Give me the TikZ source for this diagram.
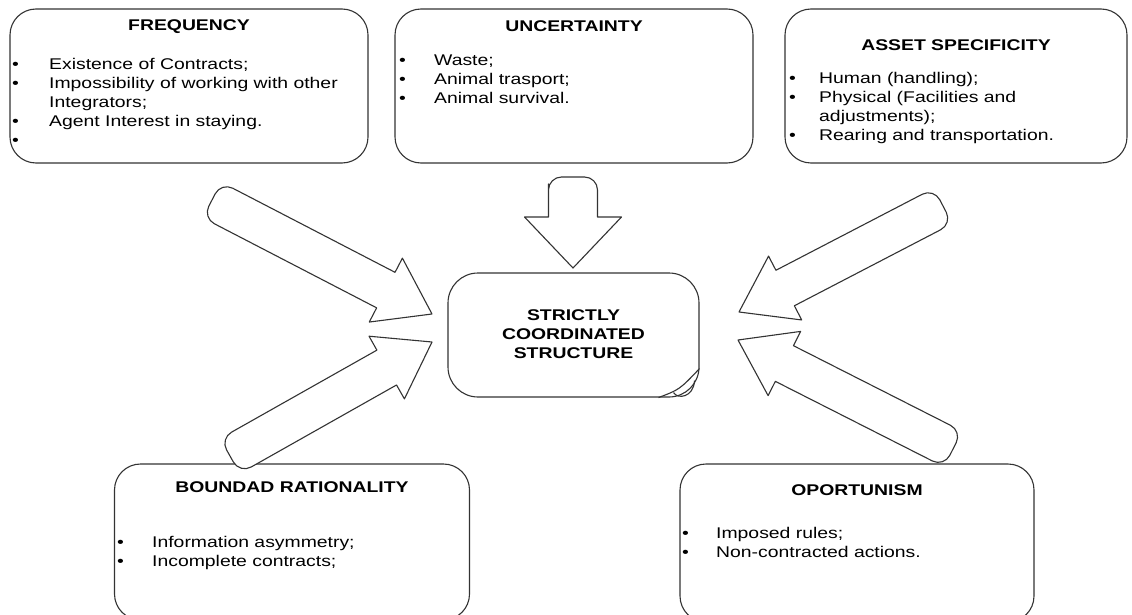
\documentclass[tikz,border=0pt]{standalone}
\usepackage{fontspec}
\newfontfamily\diagfont{Liberation Sans}[FakeStretch=1.25]
\usetikzlibrary{calc}

\newcommand{\itemlist}[2]{\begin{tabular}[t]{@{}p{#1}@{}l@{}}#2\end{tabular}}
% block arrow: tail, tip, shaft half width, head half width, head length
\newcommand{\blockarrow}[5]{%
  \coordinate (#1h) at ($(#2)!#5!(#1)$);
  \coordinate (#1m) at ($(#1)!0.5!(#1h)$);
  \draw[arr] (#2) -- ($(#1h)!#4!90:(#2)$) -- ($(#1h)!#3!90:(#2)$) -- ($(#1m)!#3!90:(#2)$)
    [rounded corners=13pt] -- ($(#1)!#3!90:(#2)$) -- ($(#1)!#3!-90:(#2)$) -- ($(#1m)!#3!-90:(#2)$)
    [sharp corners] -- ($(#1h)!#3!-90:(#2)$) -- ($(#1h)!#4!-90:(#2)$) -- cycle;}

\tikzset{
  box/.style={draw=black!80, line width=1.1pt, rounded corners=26pt, fill=white},
  arr/.style={draw=black!80, line width=1.1pt, fill=white, line join=round},
  ttl/.style={font=\diagfont\fontsize{15.5}{19}\selectfont\bfseries, anchor=base, inner sep=0pt},
  lst/.style={font=\diagfont\fontsize{15.5}{19}\selectfont, anchor=base west, inner sep=0pt},
}

\begin{document}
\begin{tikzpicture}[x=1pt,y=-1pt]
  \useasboundingbox (0,0) rectangle (1132,615);
  \fill[white] (0,0) rectangle (1132,615);
  \clip (0,0) rectangle (1132,615);

  \node[box, minimum width=358pt, minimum height=154pt] (freq) at (189,86) {};
  \node[box, minimum width=358pt, minimum height=154pt] (unc) at (574,86) {};
  \node[box, minimum width=342pt, minimum height=154pt] (asset) at (956,86) {};
  \node[box, minimum width=251pt, minimum height=124pt, rounded corners=30pt] (scs) at (573.5,335) {};
  \node[box, minimum width=355pt, minimum height=156pt] (bound) at (292,542) {};
  \node[box, minimum width=354pt, minimum height=158pt] (oport) at (857,543) {};

  \node[ttl] (freqT) at (189,30.5) {FREQUENCY};
  \node[ttl] (uncT) at (574,31.5) {UNCERTAINTY};
  \node[ttl] (assetT) at (956,50.5) {ASSET SPECIFICITY};
  \node[ttl] (boundT) at (292,492.5) {BOUNDAD RATIONALITY};
  \node[ttl] (oportT) at (857,495.5) {OPORTUNISM};
  \node[ttl] (scsT) at (573.5,320.5) {\begin{tabular}[t]{@{}c@{}}STRICTLY\\COORDINATED\\STRUCTURE\end{tabular}};

  \node[lst] (freqL) at (12,70) {\itemlist{37pt}{%
    •&Existence of Contracts;\\
    •&Impossibility of working with other\\
    &Integrators;\\
    •&Agent Interest in staying.\\
    •&}};
  \node[lst] (uncL) at (399,65.5) {\itemlist{35pt}{%
    •&Waste;\\
    •&Animal trasport;\\
    •&Animal survival.}};
  \node[lst] (assetL) at (789,83.5) {\itemlist{30pt}{%
    •&Human (handling);\\
    •&Physical (Facilities and\\
    &adjustments);\\
    •&Rearing and transportation.}};
  \node[lst] (boundL) at (117,547.5) {\itemlist{35pt}{%
    •&Information asymmetry;\\
    •&Incomplete contracts;}};
  \node[lst] (oportL) at (682,538.5) {\itemlist{34pt}{%
    •&Imposed rules;\\
    •&Non-contracted actions.}};

  % folded corner
  \draw[arr, fill=none] ($(scs.south east)+(-41,0)$) .. controls ($(scs.south east)+(-20,-8)$) .. ($(scs.south east)+(0,-29)$);
  \draw[arr, fill=none] ($(scs.south east)+(-26,-5)$) .. controls ($(scs.south east)+(-22,2)$) and ($(scs.south east)+(-6,0)$) .. ($(scs.south east)+(-5,-17)$);

  \coordinate (dnT) at (573,177);
  \coordinate (dnP) at (573,268);
  \coordinate (ulT) at (212,200);
  \coordinate (ulP) at (432,314);
  \coordinate (llT) at (230,456);
  \coordinate (llP) at (432,342);
  \coordinate (urT) at (943,206);
  \coordinate (urP) at (739,312);
  \coordinate (lrT) at (953,449);
  \coordinate (lrP) at (738,340);

  \blockarrow{dnT}{dnP}{24.5pt}{48.5pt}{51pt}
  \blockarrow{ulT}{ulP}{20pt}{36pt}{52pt}
  \blockarrow{llT}{llP}{20pt}{36pt}{52pt}
  \blockarrow{urT}{urP}{20pt}{36pt}{52pt}
  \blockarrow{lrT}{lrP}{20pt}{36pt}{52pt}
\end{tikzpicture}
\end{document}
